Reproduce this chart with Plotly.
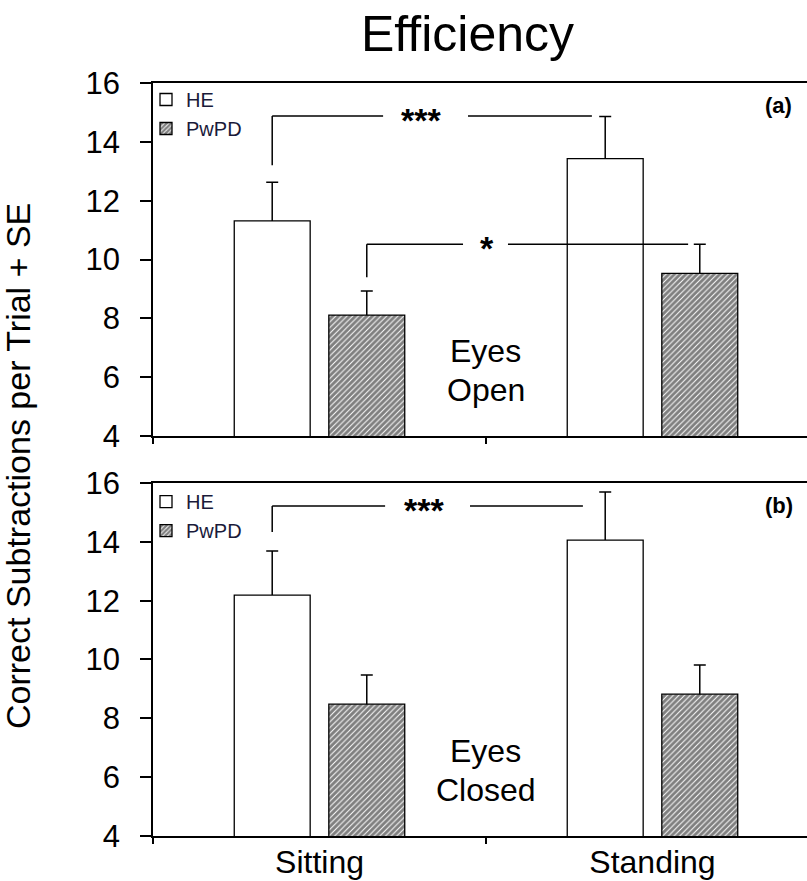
import plotly.graph_objects as go

# ---------------- data ----------------
categories = ["Sitting", "Standing"]
cat_pos = [0, 1]
groups = ["HE", "PwPD"]
y_ticks = [4, 6, 8, 10, 12, 14, 16]

open_he = [11.31, 13.43]
open_he_se = [1.32, 1.43]
open_pd = [8.11, 9.53]
open_pd_se = [0.82, 0.99]

closed_he = [12.19, 14.06]
closed_he_se = [1.50, 1.63]
closed_pd = [8.48, 8.82]
closed_pd_se = [0.99, 0.99]

panel_labels = ["(a)", "(b)"]
condition_labels = [["Eyes", "Open"], ["Eyes", "Closed"]]

# significance brackets
sig_panel = [0, 0, 1]
sig_left = [("HE", 0), ("PwPD", 0), ("HE", 0)]
sig_right = [("HE", 1), ("PwPD", 1), ("HE", 1)]
sig_level = [14.88, 10.52, 15.22]
sig_leg_bottom = [13.2, 9.40, 14.33]
sig_text = ["***", "*", "***"]

# ---------------- geometry / style ----------------
FONT = "Liberation Sans, Arial, sans-serif"
bar_width = 0.228
offsets = {"HE": -0.256, "PwPD": 0.028}
def center(group, cat):
    return cat + offsets[group] + bar_width / 2

sig_gap = [(0.191, 0.446, 0.305), (0.431, 0.566, 0.503), (0.197, 0.452, 0.314)]
sig_end_short = [0.040, 0.035, 0.067]

X_RANGE = [-0.5, 1.464]
Y_RANGE = [4, 16]

fig = go.Figure()

# panel axes: main axes (error bars) and overlay axes (bars drawn on top)
panel_axes = [("x", "y", "x3", "y3"), ("x2", "y2", "x4", "y4")]

def add_bars(vals, se, group, panel, legend):
    xa, ya, xo, yo = panel_axes[panel]
    marker = dict(color="white", line=dict(color="black", width=1.3))
    if group == "PwPD":
        marker["pattern"] = dict(shape="/", fgcolor="black", bgcolor="white", size=4, solidity=0.75)
    # error bars on the underlying axes so the bar hides the lower half
    fig.add_trace(go.Scatter(
        x=[center(group, c) for c in cat_pos], y=vals, xaxis=xa, yaxis=ya,
        mode="markers", marker=dict(size=1, color="rgba(0,0,0,0)"),
        error_y=dict(type="data", array=se, symmetric=True, thickness=1.5, width=6, color="black"),
        showlegend=False, hoverinfo="skip",
    ))
    fig.add_trace(go.Bar(
        x=cat_pos, y=vals, name=group, xaxis=xo, yaxis=yo,
        width=bar_width, offset=offsets[group], marker=marker,
        legend=legend, hoverinfo="skip",
    ))

add_bars(open_he, open_he_se, "HE", 0, "legend")
add_bars(open_pd, open_pd_se, "PwPD", 0, "legend")
add_bars(closed_he, closed_he_se, "HE", 1, "legend2")
add_bars(closed_pd, closed_pd_se, "PwPD", 1, "legend2")

# brackets
for i in range(len(sig_text)):
    xr, yr = panel_axes[sig_panel[i]][:2]
    xl = center(*sig_left[i])
    xe = center(*sig_right[i]) - sig_end_short[i]
    lv = sig_level[i]
    g0, g1, tx = sig_gap[i]
    line = dict(color="black", width=1.5)
    fig.add_shape(type="line", xref=xr, yref=yr, x0=xl, x1=xl, y0=sig_leg_bottom[i], y1=lv, line=line)
    fig.add_shape(type="line", xref=xr, yref=yr, x0=xl, x1=g0, y0=lv, y1=lv, line=line)
    fig.add_shape(type="line", xref=xr, yref=yr, x0=g1, x1=xe, y0=lv, y1=lv, line=line)
    fig.add_annotation(xref=xr, yref=yr, x=tx, y=lv, text="<b>" + sig_text[i] + "</b>",
                       showarrow=False, xanchor="center", yanchor="middle", yshift=-4,
                       font=dict(family=FONT, size=34, color="black"))

# condition labels
cond_y = [6.90, 5.57]
for p in range(2):
    xr, yr = panel_axes[p][:2]
    for j, t in enumerate(condition_labels[p]):
        fig.add_annotation(xref=xr, yref=yr, x=0.5, y=cond_y[j], text=t, showarrow=False,
                           xanchor="center", yanchor="middle",
                           font=dict(family=FONT, size=32, color="black"))

# panel labels
for p, yy in enumerate([0.970, 0.439]):
    fig.add_annotation(xref="paper", yref="paper", x=0.957, y=yy, text="<b>" + panel_labels[p] + "</b>",
                       showarrow=False, xanchor="center", yanchor="middle",
                       font=dict(family=FONT, size=22, color="black"))

# y axis title
fig.add_annotation(xref="paper", yref="paper", x=-0.2064, y=0.4914,
                   text="Correct Subtractions per Trial + SE", textangle=-90, showarrow=False,
                   xanchor="center", yanchor="middle", font=dict(family=FONT, size=34, color="black"))

xcommon = dict(range=X_RANGE, tickvals=cat_pos, ticktext=categories, ticks="",
               minor=dict(tick0=-0.5, dtick=1, ticks="outside", ticklen=6, tickwidth=1.5,
                          tickcolor="black", showgrid=False),
               showline=True, linecolor="black", linewidth=1.5, mirror=True,
               showgrid=False, zeroline=False, automargin=False, ticklabelstandoff=-3,
               tickfont=dict(family=FONT, size=32, color="black"))
ycommon = dict(range=Y_RANGE, tickvals=y_ticks, ticks="outside", ticklen=11, tickwidth=1.5,
               tickcolor="black", showline=True, linecolor="black", linewidth=1.5,
               showgrid=False, zeroline=False, ticklabelstandoff=14, automargin=False,
               tickfont=dict(family=FONT, size=31, color="black"))

legend_common = dict(x=-0.0107, xanchor="left", yanchor="top", bgcolor="rgba(0,0,0,0)",
                     itemwidth=30, tracegroupgap=0,
                     font=dict(family=FONT, size=20, color="#1a1a3a"))

fig.update_layout(
    width=807, height=881,
    margin=dict(l=153, r=0, t=83, b=45),
    paper_bgcolor="white", plot_bgcolor="white",
    barmode="overlay",
    title=dict(text="Efficiency", x=0.5793, xanchor="center", xref="container",
               y=0.9625, yanchor="middle", yref="container", automargin=False,
               font=dict(family=FONT, size=50, color="black")),
    xaxis=dict(domain=[0, 1], anchor="y", showticklabels=False, **xcommon),
    yaxis=dict(domain=[0.5312, 1], anchor="x", **ycommon),
    xaxis2=dict(domain=[0, 1], anchor="y2", showticklabels=True, **xcommon),
    yaxis2=dict(domain=[0, 0.4688], anchor="x2", **ycommon),
    xaxis3=dict(overlaying="x", anchor="y3", range=X_RANGE, visible=False),
    yaxis3=dict(overlaying="y", anchor="x3", range=Y_RANGE, visible=False),
    xaxis4=dict(overlaying="x2", anchor="y4", range=X_RANGE, visible=False),
    yaxis4=dict(overlaying="y2", anchor="x4", range=Y_RANGE, visible=False),
    legend=dict(y=1.004, **legend_common),
    legend2=dict(y=0.470, **legend_common),
    showlegend=True,
)

fig.write_html("out.html", config={"displayModeBar": False},
               post_script="document.body.style.margin='0';document.body.style.overflow='hidden';")
